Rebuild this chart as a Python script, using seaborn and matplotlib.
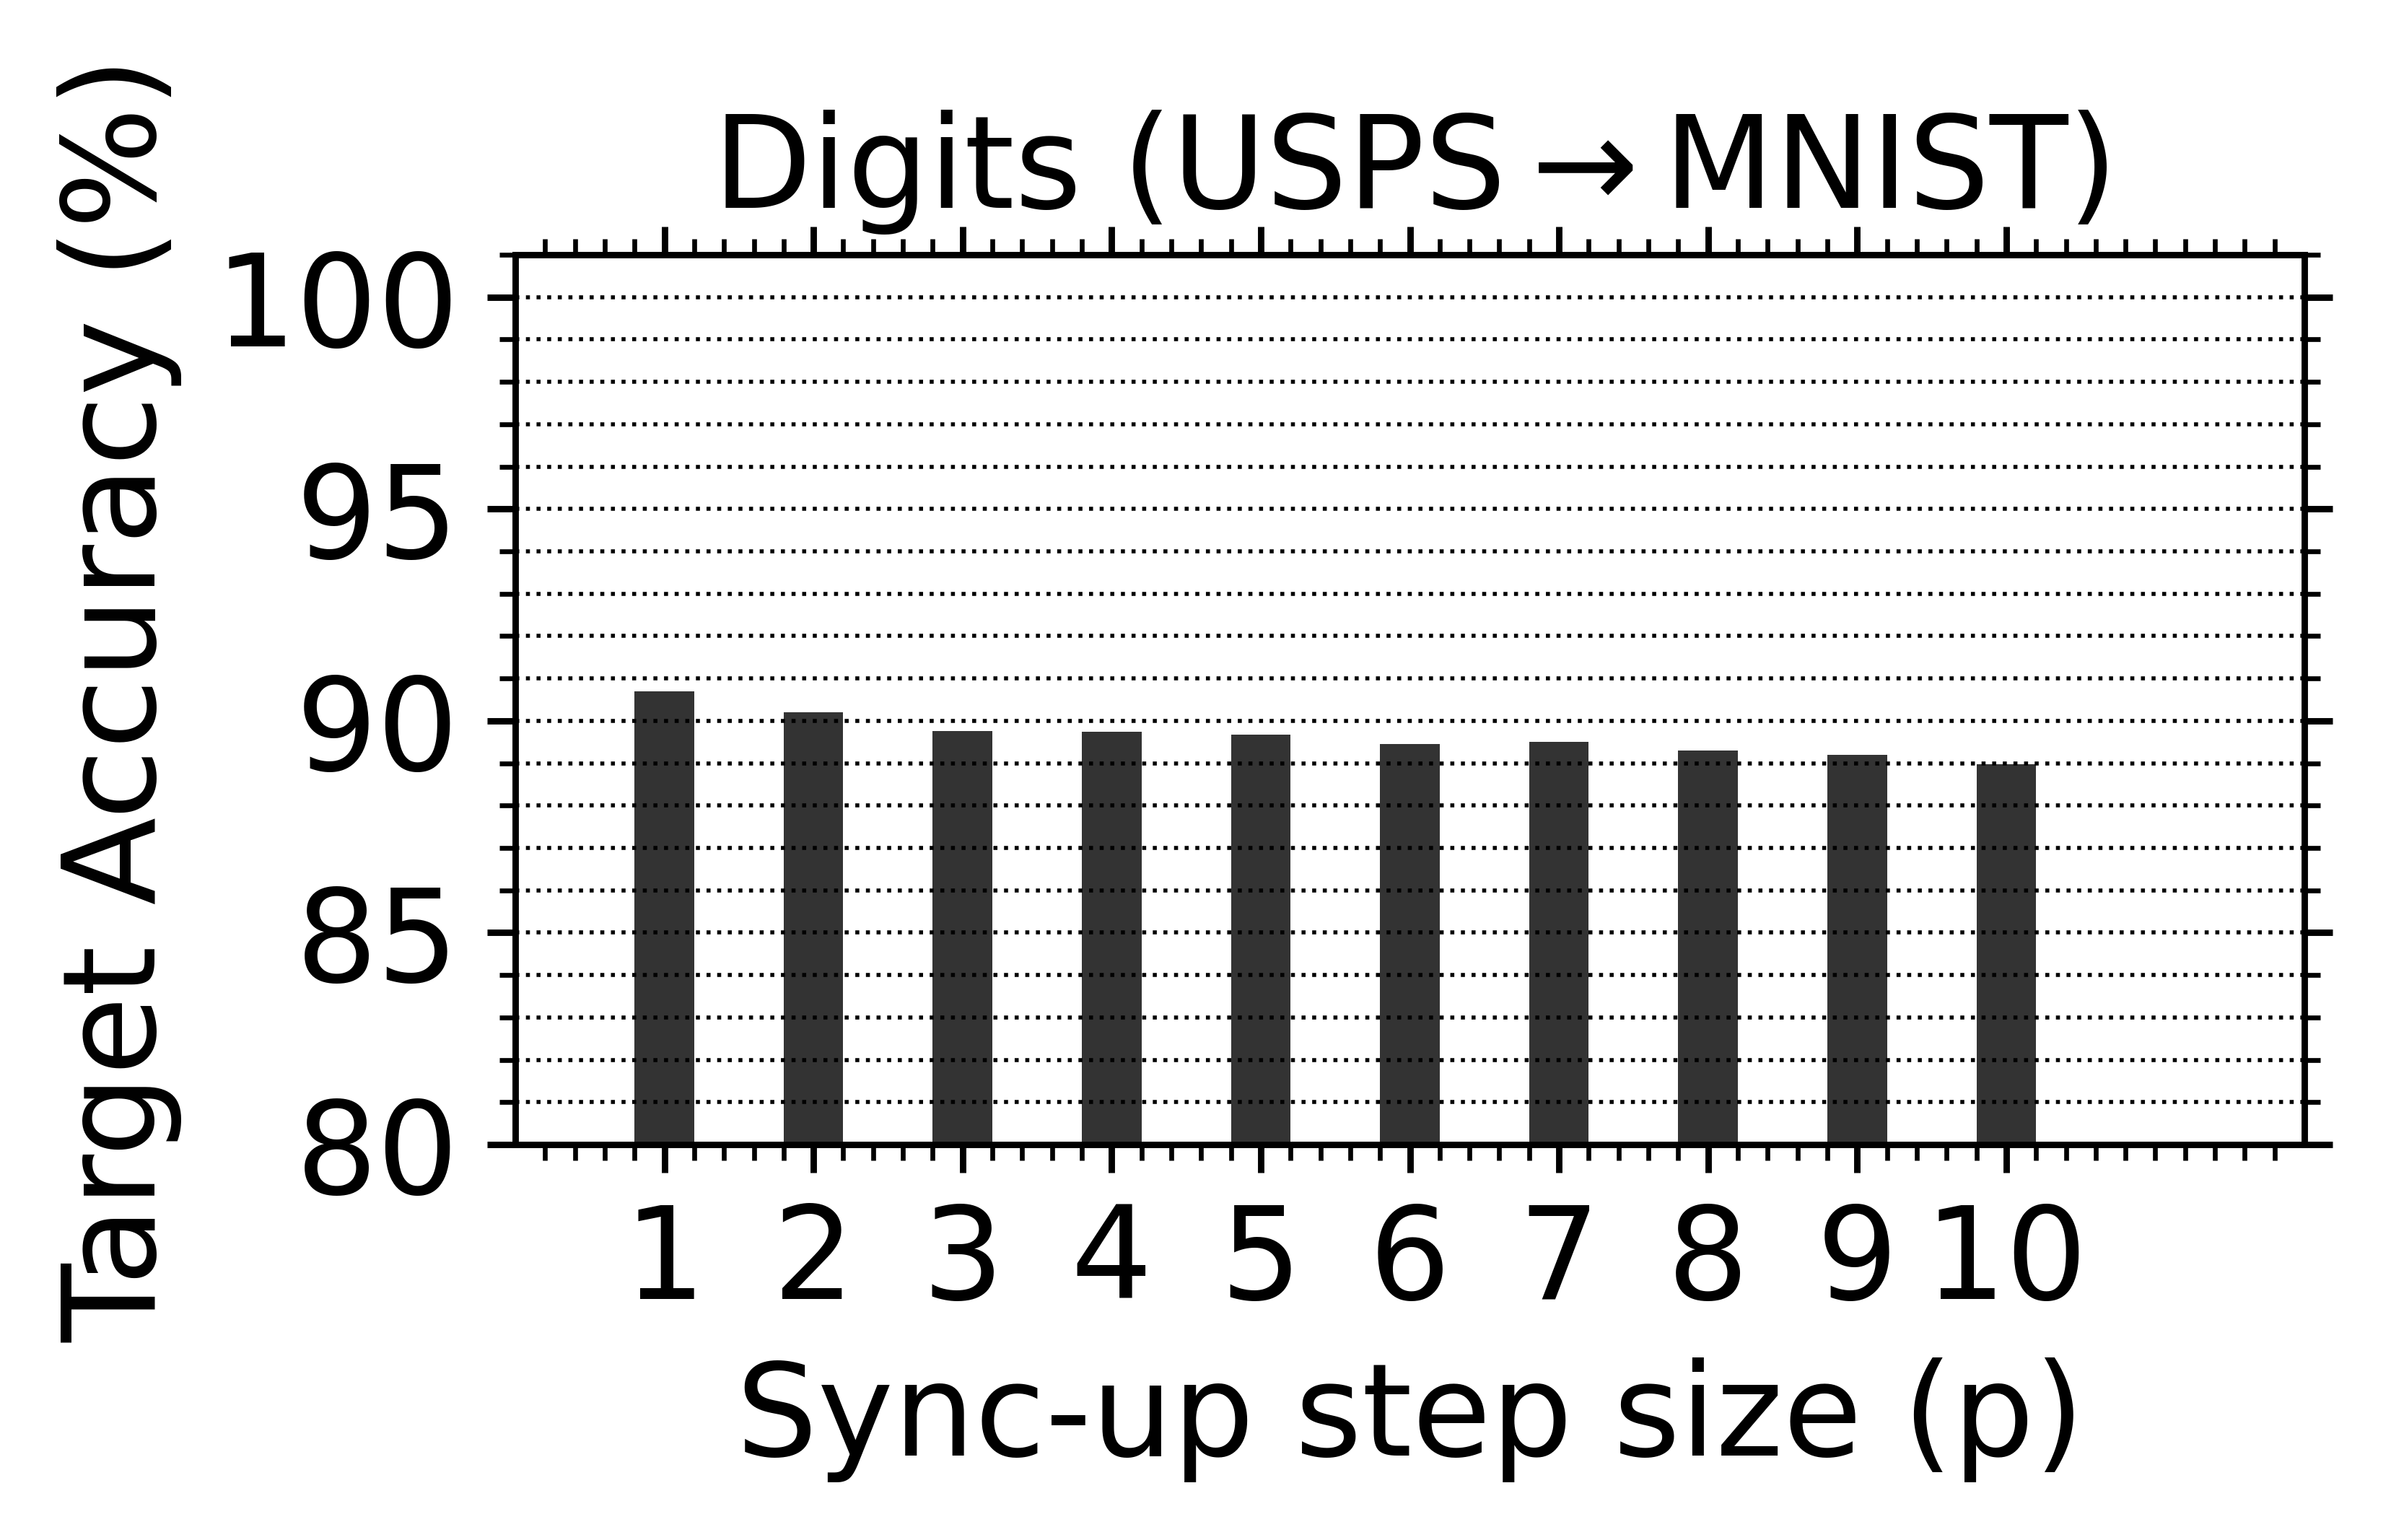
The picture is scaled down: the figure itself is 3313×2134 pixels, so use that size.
import numpy as np
import pandas as pd
import matplotlib
matplotlib.use("Agg")
import matplotlib.pyplot as plt
import matplotlib.ticker as mticker
import seaborn as sns

# data
step_sizes = [1, 2, 3, 4, 5, 6, 7, 8, 9, 10]
target_acc = [90.69, 90.20, 89.76, 89.74, 89.67, 89.45, 89.50, 89.30, 89.20, 88.98]
x_ticks = [1, 2, 3, 4, 5, 6, 7, 8, 9, 10]
y_ticks = [80, 85, 90, 95, 100]

df = pd.DataFrame({"p": step_sizes, "acc": target_acc})

plt.rcParams["font.size"] = 16
plt.rcParams["xtick.direction"] = "out"
plt.rcParams["ytick.direction"] = "out"

fig, ax = plt.subplots(figsize=(3313 / 800, 2134 / 800))
fig.subplots_adjust(left=0.2155, right=0.9638, bottom=0.2568, top=0.8346)

sns.barplot(data=df, x="p", y="acc", native_scale=True, width=0.4,
            color="k", alpha=0.8, saturation=1, errorbar=None,
            edgecolor="none", linewidth=0, ax=ax)

ax.set_xlim(0, 12)
ax.set_ylim(80, 101)
ax.xaxis.set_major_locator(mticker.FixedLocator(x_ticks))
ax.xaxis.set_minor_locator(mticker.FixedLocator(np.round(np.arange(0.2, 11.81, 0.2), 2)))
ax.xaxis.set_major_formatter(mticker.FixedFormatter([str(t) for t in x_ticks]))
ax.yaxis.set_major_locator(mticker.FixedLocator(y_ticks))
ax.yaxis.set_minor_locator(mticker.MultipleLocator(1))

ax.tick_params(which="both", top=True, right=True, labeltop=False, labelright=False)

# dotted horizontal grid at every unit
ax.grid(False)
ax.yaxis.grid(True, which="both", linestyle=":", linewidth=0.5, color="k")

ax.set_xlabel("Sync-up step size (p)")
ax.set_ylabel("Target Accuracy (%)")
ax.set_title(r"Digits (USPS$\rightarrow$MNIST)", fontsize=16, y=1.0527, pad=0)

for spine in ax.spines.values():
    spine.set_color("k")

plt.savefig("out.png", dpi=800)
